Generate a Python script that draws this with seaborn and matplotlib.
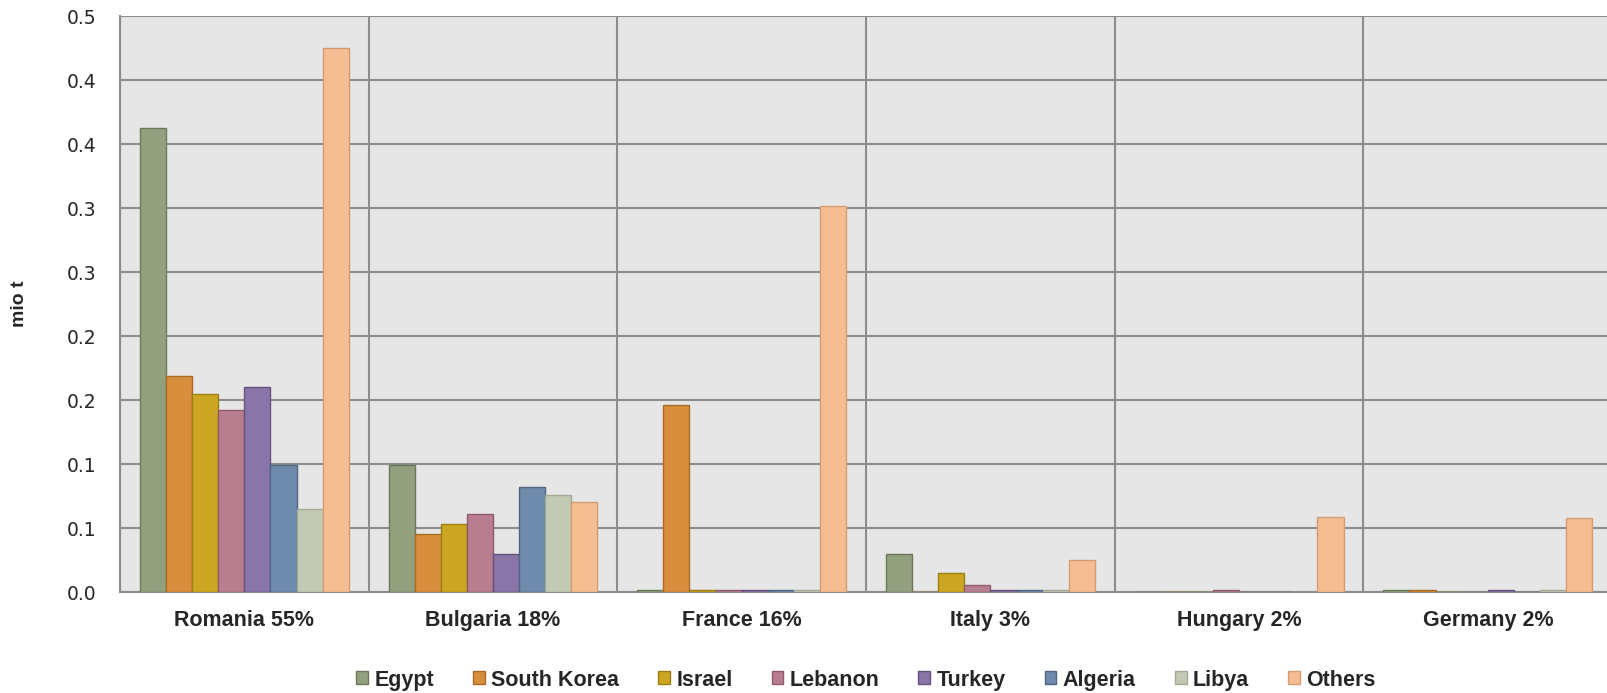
import numpy as np
import pandas as pd
import matplotlib
matplotlib.use("Agg")
import matplotlib.pyplot as plt
import seaborn as sns
from matplotlib.ticker import FixedLocator

# categories (importing countries) and exporting origins
countries = ["Romania 55%", "Bulgaria 18%", "France 16%", "Italy 3%", "Hungary 2%", "Germany 2%"]
origins = ["Egypt", "South Korea", "Israel", "Lebanon", "Turkey", "Algeria", "Libya", "Others"]

# values in mio t, one list per origin (order follows countries)
egypt = [0.363, 0.0995, 0.0015, 0.030, 0.0, 0.0015]
south_korea = [0.169, 0.045, 0.146, 0.0, 0.0, 0.0015]
israel = [0.155, 0.053, 0.0015, 0.015, 0.0, 0.0]
lebanon = [0.142, 0.061, 0.0015, 0.0056, 0.0015, 0.0]
turkey = [0.160, 0.030, 0.0015, 0.0015, 0.0, 0.0015]
algeria = [0.0995, 0.082, 0.0015, 0.0015, 0.0, 0.0]
libya = [0.065, 0.076, 0.0015, 0.0015, 0.0, 0.0015]
others = [0.425, 0.0706, 0.302, 0.025, 0.059, 0.058]

yticks = [0.0, 0.05, 0.10, 0.15, 0.20, 0.25, 0.30, 0.35, 0.40, 0.45]
ytick_labels = ["0.0", "0.1", "0.1", "0.2", "0.2", "0.3", "0.3", "0.4", "0.4", "0.5"]

colors = ["#93A07E", "#D88E3C", "#CCA622", "#B87E90", "#8975A8", "#6F8BAB", "#C2C9B4", "#F5BD91"]
edges = ["#6B775A", "#A96A25", "#9E7F12", "#8E5C6C", "#64537F", "#4F6785", "#A3AA96", "#D39C74"]

series = [egypt, south_korea, israel, lebanon, turkey, algeria, libya, others]
rows = []
for name, vals in zip(origins, series):
    for c, v in zip(countries, vals):
        rows.append({"country": c, "origin": name, "value": v})
df = pd.DataFrame(rows)

sns.set_style("white")
plt.rcParams["font.family"] = ["Liberation Sans", "DejaVu Sans"]

fig = plt.figure(figsize=(16.08, 6.93), dpi=100)
ax = fig.add_axes([0.0746, 0.1457, 0.928, 0.8306])
ax.set_facecolor("#E6E6E6")

sns.barplot(data=df, x="country", y="value", hue="origin", order=countries,
            hue_order=origins, palette=colors, width=0.84, ax=ax,
            linewidth=1.0, saturation=1, legend=True)

for cont, ec in zip(ax.containers, edges):
    for bar in cont:
        bar.set_edgecolor(ec)
        bar.set_zorder(3)

ax.set_xlim(-0.5, len(countries) - 0.5)
ax.set_ylim(0, 0.45)
ax.set_yticks(yticks)
ax.set_yticklabels(ytick_labels, fontsize=13.5, family="DejaVu Sans")
ax.xaxis.set_minor_locator(FixedLocator(np.arange(-0.5, len(countries), 1.0)))
ax.tick_params(axis="x", which="major", length=0, pad=13, labelsize=15.5)
ax.tick_params(axis="x", which="minor", length=7, color="#8C8C8C", width=1.5)
ax.tick_params(axis="y", length=7, color="#8C8C8C", width=1.5, pad=10)
for lab in ax.get_xticklabels():
    lab.set_fontweight("bold")

ax.grid(axis="y", color="#8C8C8C", linewidth=1.5, zorder=0)
ax.grid(axis="x", which="minor", color="#8C8C8C", linewidth=1.5, zorder=0)
ax.set_axisbelow(True)
for s in ["top", "right"]:
    ax.spines[s].set_visible(False)
for s in ["left", "bottom"]:
    ax.spines[s].set_color("#8C8C8C")
    ax.spines[s].set_linewidth(1.5)

ax.set_xlabel("")
ax.set_ylabel("mio t", fontsize=14, fontweight="bold")
ax.yaxis.set_label_coords(-0.0617, 0.5)

handles, labels = ax.get_legend_handles_labels()
for h, ec in zip(handles, edges):
    h.set_edgecolor(ec)
leg = ax.legend(handles, labels, loc="center", bbox_to_anchor=(0.5, -0.153), ncol=8,
                frameon=False, handlelength=0.55, handleheight=0.55, handletextpad=0.3,
                columnspacing=1.8, prop={"weight": "bold", "size": 15.5})

fig.savefig("out.png", dpi=100)
